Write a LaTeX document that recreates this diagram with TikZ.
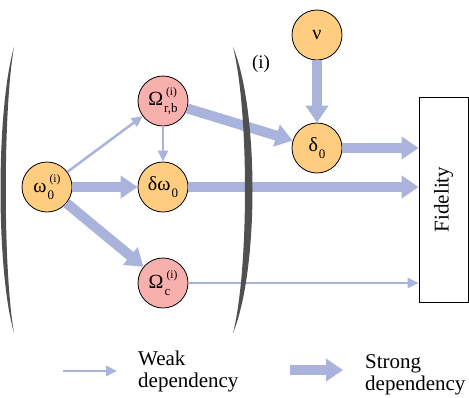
\documentclass[tikz,border=0pt]{standalone}
\usepackage{fontspec}
\setmainfont{Liberation Serif}
\usetikzlibrary{arrows.meta}
\definecolor{arr}{RGB}{170,179,219}
\definecolor{orangefill}{RGB}{255,205,128}
\definecolor{pinkfill}{RGB}{248,176,172}
\definecolor{brk}{RGB}{80,80,80}
\newcommand\supsz{\fontsize{11.5}{11.5}\selectfont}
\newcommand\subsz{\fontsize{13}{13}\selectfont}
\newcommand\vsym[3]{#1\setbox0=\hbox{\kern3pt\supsz #2}\setbox2=\hbox{\kern1pt\subsz #3}%
  \dimen0=\wd0 \ifdim\wd2>\dimen0 \dimen0=\wd2 \fi
  \rlap{\raise9.5pt\box0}\rlap{\lower7pt\box2}\kern\dimen0 }
\begin{document}
\begin{tikzpicture}[x=1pt,y=-1pt,
  var/.style={circle,draw=black,line width=0.8pt,minimum size=50pt,inner sep=0pt,font=\fontsize{20}{20}\selectfont},
  orng/.style={var,fill=orangefill},
  pnk/.style={var,fill=pinkfill},
  strong/.style={draw=arr,line width=10pt,-{Triangle[width=22pt,length=17pt]}},
  weak/.style={draw=arr,line width=2.5pt,-{Triangle[width=10pt,length=11pt]}},
  lbl/.style={font=\fontsize{21}{22}\selectfont,align=left,inner sep=0pt,anchor=west}]
\useasboundingbox (0,0) rectangle (469,397);
% nodes
\node[orng] (w0) at (47,187) {\vsym{ω}{(i)}{0}};
\node[pnk] (orb) at (163,101) {\vsym{Ω}{(i)}{r,b}};
\node[orng] (dw0) at (163,187) {\vsym{δω}{}{0}};
\node[pnk] (oc) at (163,283) {\vsym{Ω}{(i)}{c}};
\node[orng] (nu) at (317,35) {ν};
\node[orng] (d0) at (317,148) {\vsym{δ}{}{0}};
\node[draw=black,line width=0.8pt,minimum width=49pt,minimum height=205pt,inner sep=0pt,
      font=\fontsize{21}{21}\selectfont] (fid) at (443.5,199.5) {\rotatebox{90}{Fidelity}};
\node[font=\fontsize{19}{19}\selectfont,inner sep=0pt] (idx) at (261,64) {(i)};
% weak dependencies
\draw[weak] (w0) -- (orb);
\draw[weak] (orb) -- (dw0);
\draw[weak] (oc) -- (oc -| fid.west);
% strong dependencies
\draw[strong] (w0) -- (dw0);
\draw[strong] (w0) -- (oc);
\draw[strong] (orb) -- (d0);
\draw[strong] (nu) -- (d0);
\draw[strong] (d0) -- (d0 -| fid.west);
\draw[strong] (dw0) -- (dw0 -| fid.west);
% brackets
\fill[brk] (14,47) .. controls (-4,110) and (-4,270) .. (14,333) .. controls (3,270) and (3,110) .. (14,47) -- cycle;
\fill[brk] (233,47) .. controls (259,110) and (259,270) .. (233,333) .. controls (249,270) and (249,110) .. (233,47) -- cycle;
% legend
\coordinate (lw1) at (63,371);
\coordinate (lw2) at (117,371);
\draw[weak] (lw1) -- (lw2);
\node[lbl] (lwt) at (138,371) {Weak\\dependency};
\coordinate (ls1) at (290,370);
\coordinate (ls2) at (343,370);
\draw[strong] (ls1) -- (ls2);
\node[lbl] (lst) at (365,375) {Strong\\dependency};
\end{tikzpicture}
\end{document}
